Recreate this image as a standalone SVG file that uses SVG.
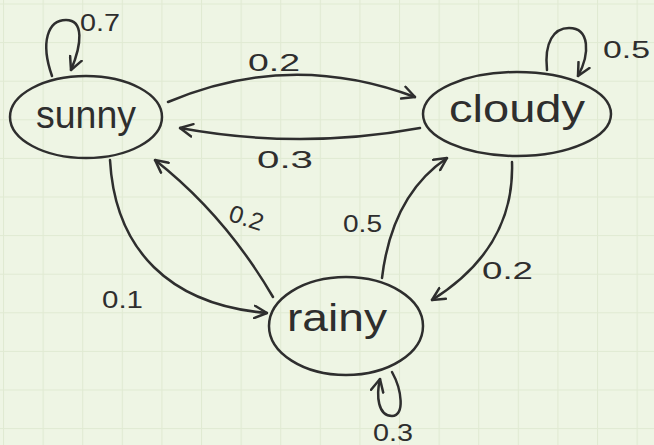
<svg xmlns="http://www.w3.org/2000/svg" width="654" height="445" viewBox="0 0 654 445">
  <defs>
    <pattern id="grid" x="3" y="3.5" width="39.6" height="38.6" patternUnits="userSpaceOnUse">
      <rect width="39.6" height="38.6" fill="#eef5e4"/>
      <path d="M0,0 H39.6 M0,0 V38.6" stroke="#e0ead2" stroke-width="2" fill="none"/>
    </pattern>
    <marker id="arr" viewBox="0 0 12 12" refX="11" refY="6" markerWidth="15" markerHeight="15" markerUnits="userSpaceOnUse" orient="auto">
      <path d="M1,1 L11,6 L1,11" fill="none" stroke="#2e2e2e" stroke-width="2" stroke-linecap="round" stroke-linejoin="round"/>
    </marker>
  </defs>
  <style>
    .node { fill: none; stroke: #2e2e2e; stroke-width: 2.5; }
    .name { font-family: "Liberation Sans", "DejaVu Sans", sans-serif; font-size: 38px; fill: #2e2e2e; }
    .edge { fill: none; stroke: #2e2e2e; stroke-width: 2.5; stroke-linecap: round; marker-end: url(#arr); }
    .lbl { font-family: "Liberation Sans", "DejaVu Sans", sans-serif; font-size: 24px; fill: #2e2e2e; }
  </style>
  <rect width="654" height="445" fill="url(#grid)"/>

  <g id="sunny">
    <ellipse class="node" cx="86" cy="117" rx="76" ry="41"/>
    <text class="name" x="36" y="128" textLength="100" lengthAdjust="spacingAndGlyphs">sunny</text>
  </g>
  <g id="cloudy">
    <ellipse class="node" cx="517" cy="114" rx="94" ry="42"/>
    <text class="name" x="449" y="122" textLength="136" lengthAdjust="spacingAndGlyphs">cloudy</text>
  </g>
  <g id="rainy">
    <ellipse class="node" cx="346" cy="326" rx="77" ry="49"/>
    <text class="name" x="287" y="331" textLength="100" lengthAdjust="spacingAndGlyphs">rainy</text>
  </g>

  <g id="connectors">
    <path class="edge" d="M52,76 C40,42 48,20 66,20 C84,20 82,44 71,70"/>
    <path class="edge" d="M547,70 C544,42 554,28 569,28 C590,28 590,54 578,76"/>
    <path class="edge" d="M392,372 C402,390 405,416 392,416 C378,416 376,396 380,379"/>
    <path class="edge" d="M168,102 Q290,50 415,97"/>
    <path class="edge" d="M420,128 Q300,150 180,128"/>
    <path class="edge" d="M110,160 C115,250 170,305 267,313"/>
    <path class="edge" d="M273,297 Q225,215 155,160"/>
    <path class="edge" d="M382,278 Q392,195 447,158"/>
    <path class="edge" d="M512,162 Q515,248 432,300"/>
  </g>

  <g id="labels">
    <text class="lbl" x="80" y="31" textLength="40" lengthAdjust="spacingAndGlyphs">0.7</text>
    <text class="lbl" x="603" y="58" textLength="47" lengthAdjust="spacingAndGlyphs">0.5</text>
    <text class="lbl" x="373" y="441" textLength="40" lengthAdjust="spacingAndGlyphs">0.3</text>
    <text class="lbl" x="248" y="71" textLength="52" lengthAdjust="spacingAndGlyphs">0.2</text>
    <text class="lbl" x="257" y="168" textLength="56" lengthAdjust="spacingAndGlyphs">0.3</text>
    <text class="lbl" x="102" y="308" textLength="41" lengthAdjust="spacingAndGlyphs">0.1</text>
    <text class="lbl" x="229" y="226" textLength="35" lengthAdjust="spacingAndGlyphs" transform="rotate(18 246 218)">0.2</text>
    <text class="lbl" x="343" y="232" textLength="39" lengthAdjust="spacingAndGlyphs">0.5</text>
    <text class="lbl" x="482" y="279" textLength="51" lengthAdjust="spacingAndGlyphs">0.2</text>
  </g>
</svg>
